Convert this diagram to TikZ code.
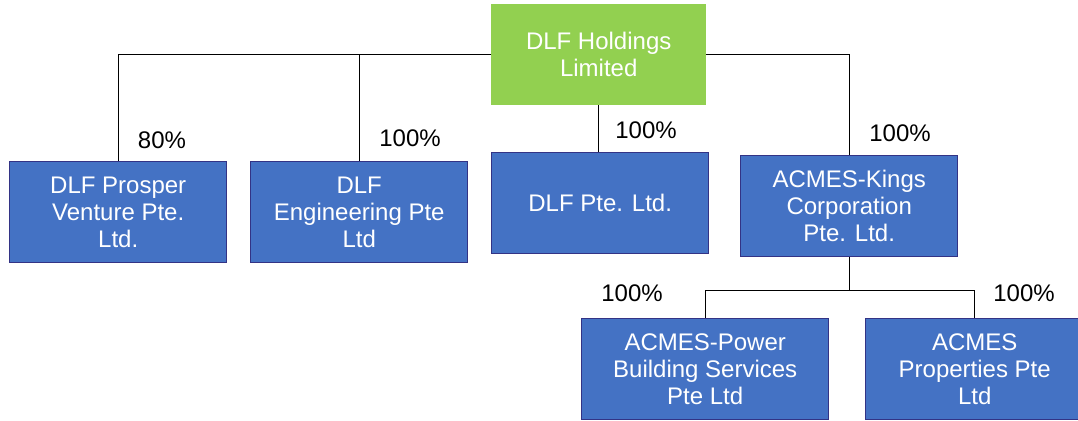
\documentclass[tikz,border=0pt]{standalone}
\usepackage{fontspec}
\setmainfont{Liberation Sans}
\begin{document}
\begin{tikzpicture}[x=1pt,y=-1pt,
  every node/.style={font=\fontsize{24}{27}\selectfont, inner sep=0pt},
  bluebox/.style={draw=blue!40!black!80, line width=1.4pt, fill={rgb,255:red,68;green,114;blue,196}, text=white, align=center, minimum height=101pt, anchor=north west},
  greenbox/.style={fill={rgb,255:red,146;green,208;blue,80}, text=white, align=center, minimum width=215pt, minimum height=101pt, anchor=north west},
  link/.style={draw=black, line width=1.4pt},
  pct/.style={text=black}]
\useasboundingbox (0,0) rectangle (1078,420);
\clip (0,0) rectangle (1078,420);
\node[greenbox] (top) at (491,4) {DLF Holdings\\Limited};
\node[bluebox, minimum width=217pt] (b1) at (9,161) {DLF Prosper\\Venture Pte.\\Ltd.};
\node[bluebox, minimum width=217pt] (b2) at (250,161) {DLF\\Engineering Pte\\Ltd};
\node[bluebox, minimum width=217pt] (b3) at (491,152) {DLF Pte. Ltd.};
\node[bluebox, minimum width=217pt] (b4) at (740,155) {ACMES-Kings\\Corporation\\Pte. Ltd.};
\node[bluebox, minimum width=247pt] (b5) at (581,318) {ACMES-Power\\Building Services\\Pte Ltd};
\node[bluebox, minimum width=218pt] (b6) at (865,318) {ACMES\\Properties Pte\\Ltd};
\draw[link] (top.west) -| (b1.north);
\draw[link] (top.west) -| (b2.north);
\draw[link] (top.east) -| (b4.north);
\draw[link] (top.south) -- (top.south |- b3.north);
\draw[link] (b4.south) -- ++(0,33) coordinate (j);
\draw[link] (j) -| (b5.north);
\draw[link] (j) -| (b6.north);
\node[pct] (p1) at (162,140) {80\%};
\node[pct] (p2) at (410,138) {100\%};
\node[pct] (p3) at (646,130) {100\%};
\node[pct] (p4) at (900,133) {100\%};
\node[pct] (p5) at (632,293) {100\%};
\node[pct] (p6) at (1024,293) {100\%};
\end{tikzpicture}
\end{document}
